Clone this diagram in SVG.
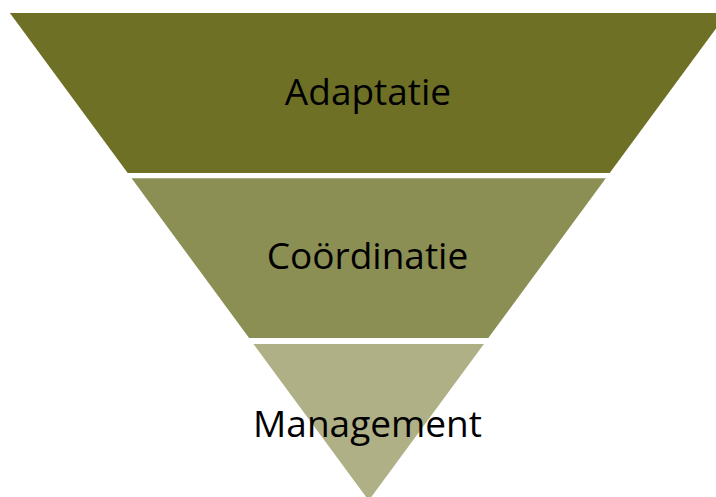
<svg xmlns="http://www.w3.org/2000/svg" width="716" height="497" viewBox="0 0 716 497">
  <style>
    .band-top { fill: #6e7026; }
    .band-mid { fill: #8b8f54; }
    .band-low { fill: #afb086; }
    .label { font-family: "Open Sans", "Liberation Sans", sans-serif; font-size: 37px; fill: #000000; text-anchor: middle; }
  </style>
  <rect width="716" height="497" fill="#ffffff"/>
  <g id="adaptatie">
    <polygon class="band-top" points="9.9,13 727.5,13 609.7,173 127.7,173"/>
    <text class="label" x="368" y="105">Adaptatie</text>
  </g>
  <g id="coordinatie">
    <polygon class="band-mid" points="131.6,178.3 605.8,178.3 488.3,338 249.1,338"/>
    <text class="label" x="367.5" y="269">Coördinatie</text>
  </g>
  <g id="management">
    <polygon class="band-low" points="253.5,344 483.9,344 368.7,500.5"/>
    <text class="label" x="367.5" y="437">Management</text>
  </g>
  <g id="connectors"/>
</svg>
